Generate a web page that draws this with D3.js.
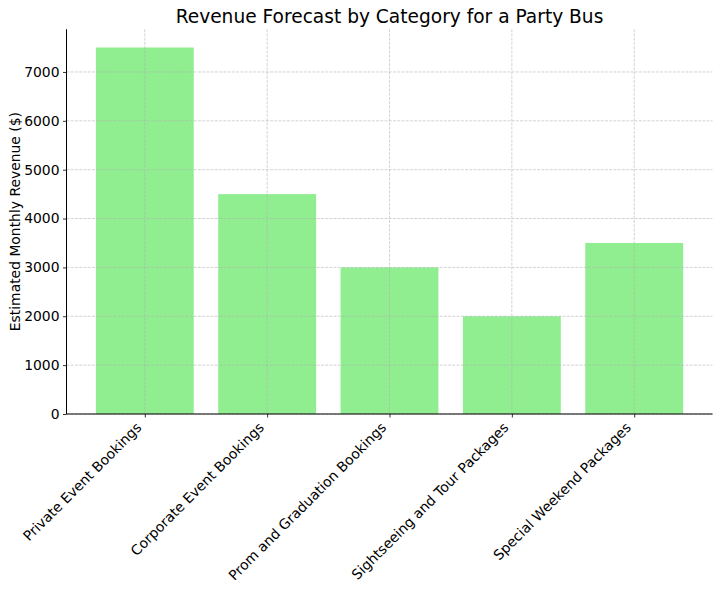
<!DOCTYPE html>
<html><head><meta charset="utf-8">
<script src="https://cdn.jsdelivr.net/npm/d3@7"></script>
<style>body{margin:0;background:#fff}svg{display:block}text{font-family:"DejaVu Sans",sans-serif;fill:#000}</style>
</head><body><svg id="c" width="720" height="589"></svg>
<script>
const categories = ["Private Event Bookings","Corporate Event Bookings","Prom and Graduation Bookings","Sightseeing and Tour Packages","Special Weekend Packages"];
const revenue = [7500, 4500, 3000, 2000, 3500];
const yTicks = [0,1000,2000,3000,4000,5000,6000,7000];
const title = "Revenue Forecast by Category for a Party Bus";
const yLabel = "Estimated Monthly Revenue ($)";

const svg = d3.select("#c");
const L = 66.5, R = 712.5, T = 29.2, B = 414;
const x = d3.scaleLinear().domain([-0.64, categories.length - 1 + 0.64]).range([L, R]);
const y = d3.scaleLinear().domain([0, d3.max(revenue) * 1.05]).range([B, T]);
const bw = x(0.4) - x(-0.4);

// bars
svg.append("g").selectAll("rect").data(revenue).join("rect")
  .attr("x", (d,i) => x(i) - bw/2).attr("width", bw)
  .attr("y", d => y(d)).attr("height", d => B - y(d))
  .attr("fill", "#90ee90");

// grid
const grid = svg.append("g").attr("stroke", "#b0b0b0").attr("stroke-opacity", 0.7)
  .attr("stroke-width", 0.8).attr("stroke-dasharray", "2.96,1.28").attr("fill","none");
grid.selectAll("line.h").data(yTicks).join("line").attr("class","h")
  .attr("x1", L).attr("x2", R).attr("y1", d => y(d)).attr("y2", d => y(d));
grid.selectAll("line.v").data(categories).join("line").attr("class","v")
  .attr("x1", (d,i) => x(i)).attr("x2", (d,i) => x(i)).attr("y1", T).attr("y2", B);

// y axis
const yAxis = svg.append("g").attr("transform", `translate(${L},0)`)
  .call(d3.axisLeft(y).tickValues(yTicks).tickSize(3.5).tickPadding(3.5).tickFormat(d3.format("d")));
yAxis.select(".domain").remove();
yAxis.selectAll("text").attr("font-size", 13.9).style("font-family", '"DejaVu Sans"');
yAxis.selectAll("line").attr("stroke", "#000").attr("stroke-width", 0.8);

// x axis
const xAxis = svg.append("g").attr("transform", `translate(0,${B})`)
  .call(d3.axisBottom(x).tickValues(d3.range(categories.length)).tickSize(3.5).tickFormat(() => ""));
xAxis.select(".domain").remove();
xAxis.selectAll("line").attr("stroke", "#000").attr("stroke-width", 0.8);

// x tick labels rotated 45, ha=right
const fs = 13.9, asc = fs * 0.76, desc = fs * 0.24, k = Math.SQRT1_2;
svg.append("g").selectAll("text").data(categories).join("text")
  .attr("font-size", fs).attr("text-anchor", "end")
  .attr("transform", (d,i) => `translate(${x(i) - k*desc},${B + 3.5 + 3.5 + k*asc}) rotate(-45)`)
  .text(d => d);

// spines
svg.append("line").attr("x1", L).attr("x2", L).attr("y1", T).attr("y2", B).attr("stroke", "#000").attr("stroke-width", 1);
svg.append("line").attr("x1", L).attr("x2", R).attr("y1", B).attr("y2", B).attr("stroke", "#000").attr("stroke-width", 1);

// title
svg.append("text").attr("x", (L+R)/2).attr("y", 23).attr("text-anchor", "middle")
  .attr("font-size", 18.6).text(title);

// y label
svg.append("text").attr("transform", `translate(20,${(T+B)/2}) rotate(-90)`)
  .attr("text-anchor", "middle").attr("font-size", 13.9).text(yLabel);
</script></body></html>
